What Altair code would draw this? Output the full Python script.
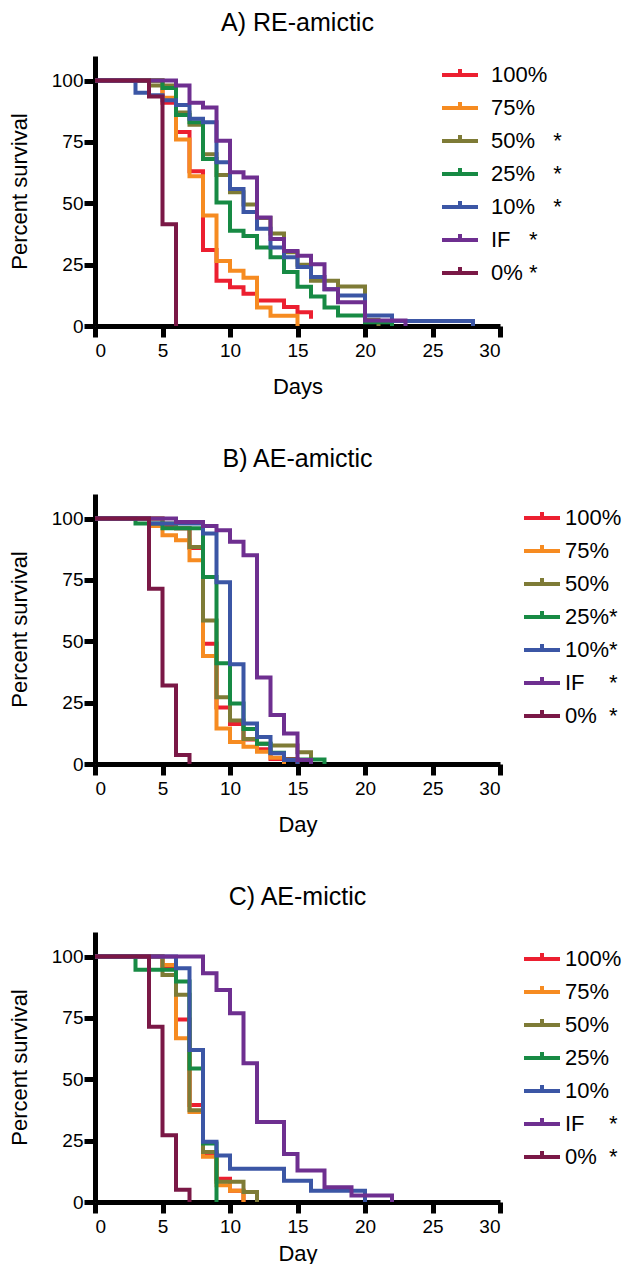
import altair as alt
import pandas as pd

GROUPS = ["100%", "75%", "50%", "25%", "10%", "IF", "0%"]
COLORS = ["#ec1f30", "#f68b21", "#7e7b36", "#178a44", "#3b56a5", "#6e2f90", "#7a1846"]

# ---------------- Panel A: RE-amictic ----------------
A_DAYS = {
    "100%": [0, 5, 6, 7, 8, 9, 10, 11, 12, 14, 15, 16],
    "75%": [0, 5, 6, 7, 8, 9, 10, 11, 12, 13, 15],
    "50%": [0, 4, 6, 7, 8, 9, 10, 11, 12, 13, 14, 15, 16, 18, 20, 21],
    "25%": [0, 5, 6, 7, 8, 9, 10, 11, 12, 13, 14, 15, 16, 17, 18, 20, 22],
    "10%": [0, 3, 4, 5, 6, 7, 8, 9, 10, 11, 12, 13, 14, 15, 16, 17, 18, 20, 22, 28],
    "IF": [0, 6, 7, 8, 9, 10, 11, 12, 13, 14, 15, 16, 17, 18, 20, 23],
    "0%": [0, 4, 5, 6],
}
A_SURV = {
    "100%": [100, 91, 79, 63, 31, 18.4, 15.8, 13.1, 10.4, 7.7, 5.6, 3],
    "75%": [100, 93, 76, 61, 45, 26.5, 22.5, 19.7, 7.5, 4.2, 0],
    "50%": [100, 98, 87, 82, 70, 61.5, 54.5, 49.5, 44, 37.7, 30, 25, 18.4, 16.1, 2.5, 0],
    "25%": [100, 97, 86, 83, 68, 50.3, 38.8, 36.7, 32, 28, 22, 16, 12, 7.5, 4.3, 1.5, 0],
    "10%": [100, 95, 94, 92, 90, 84.4, 83, 66.7, 55.8, 46.4, 39.6, 32, 28, 24, 20, 15, 12.4, 4.3, 2, 0],
    "IF": [100, 98, 91, 89, 75.5, 62.6, 60.5, 44.2, 35.4, 30.6, 28.6, 25.2, 15, 9.7, 2.2, 0],
    "0%": [100, 93.5, 41.5, 0],
}
A_STARS = {"50%": 3, "25%": 3, "10%": 3, "IF": 3, "0%": 1}

# ---------------- Panel B: AE-amictic ----------------
B_DAYS = {
    "100%": [0, 5, 6, 7, 8, 9, 10, 11, 12, 13, 15],
    "75%": [0, 4, 5, 6, 7, 8, 9, 10, 11, 12, 13, 14],
    "50%": [0, 5, 6, 7, 8, 9, 10, 11, 12, 13, 15, 16],
    "25%": [0, 3, 5, 8, 9, 10, 11, 12, 13, 14, 17],
    "10%": [0, 4, 8, 9, 10, 11, 12, 13, 14, 15],
    "IF": [0, 6, 8, 9, 10, 11, 12, 13, 14, 15, 16],
    "0%": [0, 4, 5, 6, 7],
}
B_SURV = {
    "100%": [100, 97, 96, 88, 49, 23, 16.3, 10, 6, 2, 0],
    "75%": [100, 97, 93.2, 91.2, 83, 44, 14.5, 9, 7, 5, 2.5, 0],
    "50%": [100, 98, 96, 88.4, 58.5, 27.2, 17.7, 10.2, 8.2, 7.5, 4.8, 0],
    "25%": [100, 98, 96, 76.2, 41, 24.6, 14.3, 8.3, 4.6, 1.8, 0],
    "10%": [100, 98, 93.9, 74, 40.6, 16.5, 11, 4.4, 1.6, 0],
    "IF": [100, 98.6, 97, 95.2, 90.5, 85, 35.2, 20, 12.4, 1.6, 0],
    "0%": [100, 71.4, 32, 3.7, 0],
}
B_STARS = {"25%": 0, "10%": 0, "IF": 4, "0%": 2}

# ---------------- Panel C: AE-mictic ----------------
C_DAYS = {
    "100%": [0, 5, 6, 7, 8, 9, 10, 11],
    "75%": [0, 5, 6, 7, 8, 9, 10, 11],
    "50%": [0, 5, 6, 7, 8, 9, 11, 12],
    "25%": [0, 3, 6, 7, 8, 9],
    "10%": [0, 6, 7, 8, 9, 10, 14, 16, 20],
    "IF": [0, 8, 9, 10, 11, 12, 14, 15, 17, 19, 22],
    "0%": [0, 4, 5, 6, 7],
}
C_SURV = {
    "100%": [100, 96, 74.4, 39.5, 19.7, 9.5, 4.6, 0],
    "75%": [100, 96.6, 66.7, 36.7, 18.4, 6.8, 4.6, 0],
    "50%": [100, 92.5, 84.4, 37.4, 20.4, 8.2, 4.1, 0],
    "25%": [100, 94.6, 89.8, 54.4, 23.8, 0],
    "10%": [100, 95.2, 61.9, 24.5, 18.9, 13.5, 8.7, 4.6, 0],
    "IF": [100, 93.2, 86.4, 76.9, 56.5, 32.6, 19.6, 12.8, 6, 2.6, 0],
    "0%": [100, 71.4, 27.2, 5, 0],
}
C_STARS = {"IF": 4, "0%": 2}

FONT = "Liberation Sans"
NBSP = "\u00a0"


def label_expr(stars):
    expr = "datum.label"
    for g, n in stars.items():
        lab = g + NBSP * n + "*"
        expr = f"datum.label == '{g}' ? '{lab}' : (" + expr + ")"
    return expr


def panel(days, surv, title, xtitle, stars, lx, ly, loff, xtpad, toff):
    rows = []
    for g in GROUPS:
        for d, s in zip(days[g], surv[g]):
            rows.append({"grp": g, "day": d, "surv": s})
    df = pd.DataFrame(rows)
    base = alt.Chart(df)
    color = alt.Color(
        "grp:N",
        scale=alt.Scale(domain=GROUPS, range=COLORS),
        legend=alt.Legend(
            title=None,
            orient="none",
            legendX=lx,
            legendY=ly,
            direction="vertical",
            symbolType="M-1.5,0H1.5M0,0V-0.5",
            symbolSize=576,
            symbolStrokeWidth=4,
            labelFontSize=22,
            labelFont=FONT,
            labelColor="black",
            labelOffset=loff,
            rowPadding=8,
            padding=0,
            labelExpr=label_expr(stars),
        ),
    )
    x = alt.X(
        "day:Q",
        scale=alt.Scale(domain=[0, 30], nice=False),
        axis=alt.Axis(values=[0, 5, 10, 15, 20, 25, 30], title=xtitle,
                      labelPadding=4, titlePadding=xtpad),
    )
    y = alt.Y(
        "surv:Q",
        scale=alt.Scale(domain=[0, 110], nice=False),
        axis=alt.Axis(values=[0, 25, 50, 75, 100], title="Percent survival",
                      labelPadding=1, titlePadding=20),
    )
    layers = [
        base.transform_filter(alt.datum.grp == g)
        .mark_line(interpolate="step-after", strokeWidth=4)
        .encode(x=x, y=y, color=color)
        for g in GROUPS
    ]
    return alt.layer(*layers).properties(
        width=405, height=270,
        title=alt.Title(title, fontSize=25, font=FONT, fontWeight="normal",
                        anchor="middle", offset=toff, color="black"),
    )


pA = panel(A_DAYS, A_SURV, "A) RE-amictic", "Days", A_STARS, 351, 5, 17, 16, 20)
pB = panel(B_DAYS, B_SURV, "B) AE-amictic", "Day", B_STARS, 433, 10, 9, 16, 22)
pC = panel(C_DAYS, C_SURV, "C) AE-mictic", "Day", C_STARS, 433, 13, 9, 7, 22)

chart = (
    alt.vconcat(pA, pB, pC, spacing=168, bounds="flush")
    .resolve_scale(color="independent")
    .resolve_legend(color="independent")
    .configure(padding={"left": 0, "top": 3, "right": 0, "bottom": 0})
    .configure_view(stroke=None)
    .configure_axis(
        domainWidth=5, domainColor="black", tickWidth=5, tickColor="black",
        tickSize=11, labelFontSize=19, labelFont=FONT, labelColor="black",
        titleFontSize=22, titleFont=FONT, titleFontWeight="normal",
        titleColor="black", grid=False, zindex=1,
    )
)

chart.save("out.html", embed_options={"renderer": "svg", "actions": False})
